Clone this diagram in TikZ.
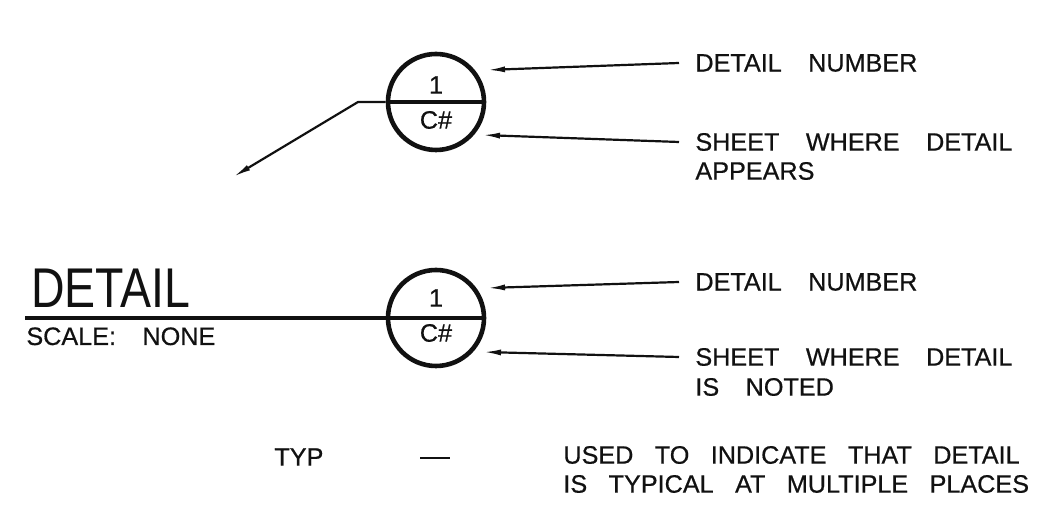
\documentclass[tikz,border=0pt]{standalone}
\usepackage{fontspec}
\setmainfont{Liberation Sans}
\newfontfamily\cadfont{Liberation Sans}[FakeBold=0.6]
\usepackage{tikz}
\usetikzlibrary{arrows.meta,calc}
\definecolor{InkBlack}{HTML}{111111}
\newcommand{\notefont}{\cadfont\fontsize{12.6}{15}\selectfont\spaceskip=1.05em plus 0.1em\relax}
\newcommand{\tightnotefont}{\notefont\spaceskip=0.85em\relax}

\begin{document}
\begin{tikzpicture}[x=0.5pt,y=-0.5pt,
    bubble/.style={circle,draw=InkBlack,line width=2.3pt,minimum size=48pt,inner sep=0pt},
    note/.style={anchor=west,inner sep=0pt,text=InkBlack,font=\notefont},
    pointer/.style={draw=InkBlack,line width=1.1pt,-{Latex[length=9pt,width=3pt]}}]
    \useasboundingbox (0,0) rectangle (1038,506);

    % section cut symbol
    \node[bubble] (upper) at (436,102) {};
    \draw[InkBlack,line width=2.2pt] (upper.west) -- (upper.east);
    \node[note,anchor=center] (upperNum) at (436,85) {1};
    \node[note,anchor=center] (upperSheet) at (436,120) {C\#};
    \coordinate (kink) at (358,102);
    \coordinate (lead) at (233,177);
    \draw[pointer] (upper.west) -- (kink) -- (lead);

    \node[note] (numA) at (695,63) {DETAIL NUMBER};
    \node[note] (sheetA) at (695,142) {SHEET WHERE DETAIL};
    \node[note] (sheetA2) at (695,171) {APPEARS};
    \coordinate (tipA) at (487,70);
    \coordinate (tipB) at (482,135);
    \draw[pointer] ([xshift=-8pt]numA.west) -- (tipA);
    \draw[pointer] ([xshift=-8pt]sheetA.west) -- (tipB);

    % detail title symbol
    \node[bubble] (lower) at (436,318) {};
    \node[note,anchor=center] (lowerNum) at (436,298) {1};
    \node[note,anchor=center] (lowerSheet) at (436,333) {C\#};
    \node[anchor=base west,inner sep=0pt,text=InkBlack,font=\fontsize{28}{30}\selectfont] (head) at (31,308) {\scalebox{0.83}[1]{DETAIL}};
    \node[note,anchor=base west] (scale) at (26,345) {SCALE: NONE};
    \coordinate (ruleStart) at (25,318);
    \draw[InkBlack,line width=2.2pt] (ruleStart) -- (lower.east);

    \node[note] (numB) at (695,282) {DETAIL NUMBER};
    \node[note] (sheetB) at (695,357) {SHEET WHERE DETAIL};
    \node[note] (sheetB2) at (695,387) {IS NOTED};
    \coordinate (tipC) at (487,288);
    \coordinate (tipD) at (483,352);
    \draw[pointer] ([xshift=-8pt]numB.west) -- (tipC);
    \draw[pointer] ([xshift=-8pt]sheetB.west) -- (tipD);

    % typical note
    \node[note] (typ) at (274,457) {TYP};
    \draw[InkBlack,line width=1.3pt] (420,458) -- (450,458);
    \node[note,font=\tightnotefont] (used) at (563,455) {USED TO INDICATE THAT DETAIL};
    \node[note,font=\tightnotefont] (used2) at (563,484) {IS TYPICAL AT MULTIPLE PLACES};
\end{tikzpicture}
\end{document}
